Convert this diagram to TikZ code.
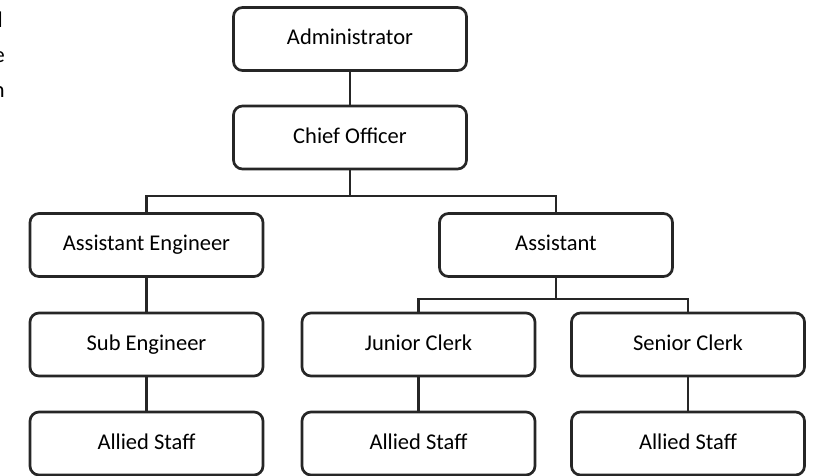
\documentclass[tikz,border=0pt]{standalone}
\usepackage{fontspec}
\setmainfont{Carlito}
\begin{document}
\begin{tikzpicture}[x=1pt,y=-1pt,
  box/.style={draw=black!85,line width=2.7pt,rounded corners=9pt,minimum width=233pt,minimum height=63pt,inner sep=0pt,text height=15pt,text depth=4pt,font=\fontsize{22.5}{26}\selectfont},
  conn/.style={draw=black!85,line width=2.7pt},
  frag/.style={anchor=base east,inner sep=0pt,font=\fontsize{22.5}{26}\selectfont}]
\useasboundingbox (0,0) rectangle (820,475);
\node[frag] (f1) at (3,27) {l};
\node[frag] (f2) at (5,62) {e};
\node[frag] (f3) at (5,97) {n};
\node[box] (adm) at (350,39) {Administrator};
\node[box] (chief) at (350,137.5) {Chief Officer};
\node[box] (ae) at (146.5,245) {Assistant Engineer};
\node[box] (as) at (556,245) {Assistant};
\node[box] (se) at (146.5,344.5) {Sub Engineer};
\node[box] (jc) at (418.5,344.5) {Junior Clerk};
\node[box] (sc) at (688,344.5) {Senior Clerk};
\node[box] (a1) at (146.5,443.5) {Allied Staff};
\node[box] (a2) at (418.5,443.5) {Allied Staff};
\node[box] (a3) at (688,443.5) {Allied Staff};
\coordinate (h1) at (350,196);
\coordinate (h2) at (556,299);
\draw[conn] (adm) -- (chief);
\draw[conn] (chief.south) -- (h1) -| (ae.north);
\draw[conn] (h1) -| (as.north);
\draw[conn] (as.south) -- (h2) -| (jc.north);
\draw[conn] (h2) -| (sc.north);
\draw[conn] (ae) -- (se);
\draw[conn] (se) -- (a1);
\draw[conn] (jc) -- (a2);
\draw[conn] (sc) -- (a3);
\end{tikzpicture}
\end{document}
